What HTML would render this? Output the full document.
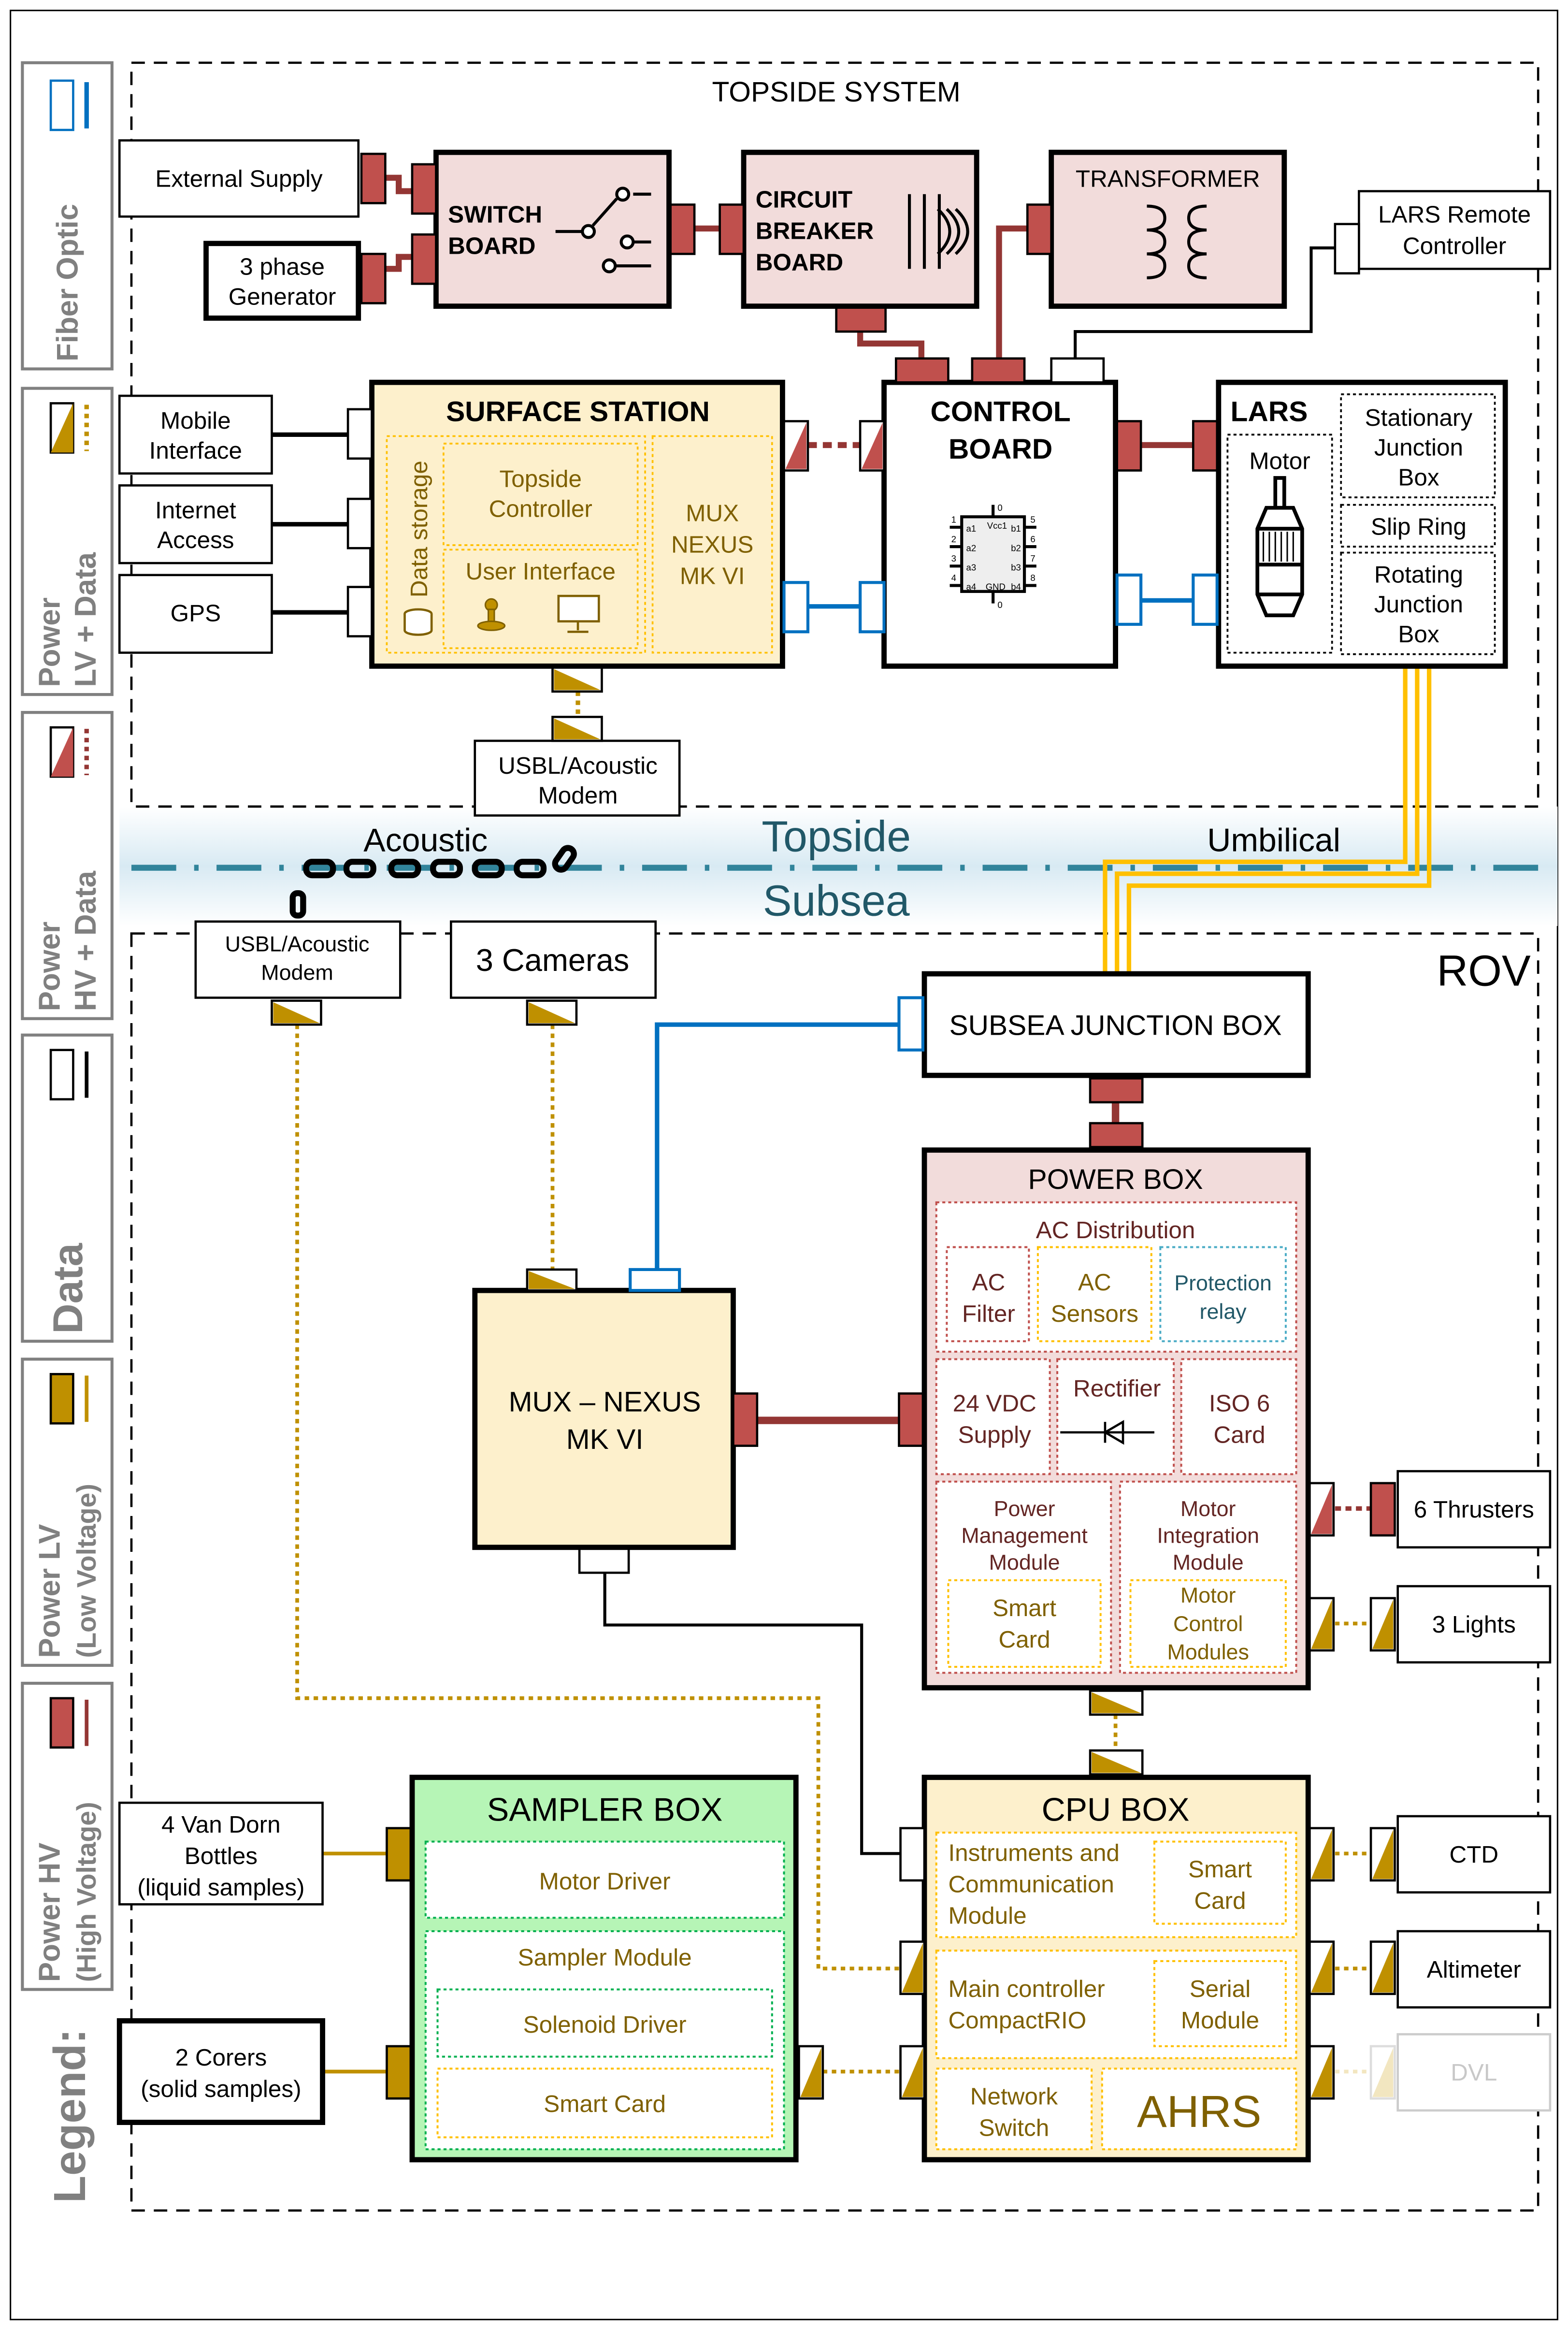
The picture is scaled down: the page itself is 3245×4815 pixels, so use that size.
<!DOCTYPE html>
<html><head><meta charset="utf-8"><style>html,body{margin:0;padding:0;background:#fff}svg{display:block}text{font-family:"Liberation Sans",sans-serif}</style></head>
<body>
<svg width="3245" height="4815" viewBox="0 0 1050 1558" preserveAspectRatio="none" xmlns="http://www.w3.org/2000/svg">
<defs>
<linearGradient id="sea" x1="0" y1="0" x2="0" y2="1">
<stop offset="0" stop-color="#fff"/><stop offset="0.5" stop-color="#d8eaf3"/><stop offset="1" stop-color="#fff"/>
</linearGradient>
</defs>
<rect x="0" y="0" width="1050" height="1558" fill="#fff"/>
<rect x="7" y="7" width="1036" height="1546" fill="none" stroke="#000" stroke-width="1"/>

<!-- band -->
<rect x="80" y="540" width="963" height="80" fill="url(#sea)"/>
<line x1="88" y1="581" x2="1035" y2="581" stroke="#31849b" stroke-width="4" stroke-dasharray="30,12,3,12"/>
<text x="560" y="570" font-size="29" fill="#215868" text-anchor="middle">Topside</text>
<text x="560" y="613" font-size="29" fill="#215868" text-anchor="middle">Subsea</text>
<text x="285" y="570" font-size="22" text-anchor="middle">Acoustic</text>
<text x="853" y="570" font-size="22" text-anchor="middle">Umbilical</text>

<!-- legend -->
<g stroke="#808080" stroke-width="2" fill="#fff">
<rect x="15" y="42" width="60" height="205"/>
<rect x="15" y="260" width="60" height="205"/>
<rect x="15" y="477" width="60" height="205"/>
<rect x="15" y="693" width="60" height="205"/>
<rect x="15" y="910" width="60" height="205"/>
<rect x="15" y="1127" width="60" height="205"/>
</g>
<g font-weight="bold" fill="#808080">
<text transform="translate(52,242) rotate(-90)" font-size="20">Fiber Optic</text>
<text transform="translate(40,460) rotate(-90)" font-size="20">Power</text>
<text transform="translate(64,460) rotate(-90)" font-size="20">LV + Data</text>
<text transform="translate(40,677) rotate(-90)" font-size="20">Power</text>
<text transform="translate(64,677) rotate(-90)" font-size="20">HV + Data</text>
<text transform="translate(55,893) rotate(-90)" font-size="28">Data</text>
<text transform="translate(40,1110) rotate(-90)" font-size="20">Power LV</text>
<text transform="translate(64,1110) rotate(-90)" font-size="18">(Low Voltage)</text>
<text transform="translate(40,1327) rotate(-90)" font-size="20">Power HV</text>
<text transform="translate(64,1327) rotate(-90)" font-size="18">(High Voltage)</text>
<text transform="translate(57,1475) rotate(-90)" font-size="30">Legend:</text>
</g>
<rect x="34" y="54" width="15" height="33" fill="#fff" stroke="#0070c0" stroke-width="1.5"/>
<line x1="58" y1="55" x2="58" y2="86" stroke="#0070c0" stroke-width="3"/>
<rect x="34" y="270" width="15" height="33" fill="#fff" stroke="#000" stroke-width="1.5"/><polygon points="49,270 49,303 34,303" fill="#bf9000"/>
<line x1="58" y1="271" x2="58" y2="302" stroke="#bf9000" stroke-width="3" stroke-dasharray="3,3"/>
<rect x="34" y="487" width="15" height="33" fill="#fff" stroke="#000" stroke-width="1.5"/><polygon points="49,487 49,520 34,520" fill="#c0504d"/>
<line x1="58" y1="488" x2="58" y2="519" stroke="#943634" stroke-width="3" stroke-dasharray="3,3"/>
<rect x="34" y="703" width="15" height="33" fill="#fff" stroke="#000" stroke-width="1.5"/>
<line x1="58" y1="704" x2="58" y2="735" stroke="#000" stroke-width="2.5"/>
<rect x="34" y="920" width="15" height="33" fill="#bf9000" stroke="#000" stroke-width="1.5"/>
<line x1="58" y1="921" x2="58" y2="952" stroke="#bf9000" stroke-width="2.5"/>
<rect x="34" y="1137" width="15" height="33" fill="#c0504d" stroke="#000" stroke-width="1.5"/>
<line x1="58" y1="1138" x2="58" y2="1169" stroke="#943634" stroke-width="2.5"/>

<!-- dashed containers -->
<rect x="88" y="42" width="942" height="498" fill="none" stroke="#000" stroke-width="1.5" stroke-dasharray="9,6"/>
<text x="560" y="68" font-size="19" text-anchor="middle">TOPSIDE SYSTEM</text>
<rect x="88" y="625" width="942" height="855" fill="none" stroke="#000" stroke-width="1.5" stroke-dasharray="9,6"/>
<text x="1025" y="660" font-size="29" text-anchor="end">ROV</text>

<!-- ===== connecting lines topside ===== -->
<g fill="none" stroke="#943634" stroke-width="4">
<polyline points="257,119 267,119 267,128 276,128"/>
<polyline points="257,180 267,180 267,172 276,172"/>
<line x1="465" y1="153" x2="482" y2="153"/>
<polyline points="576,222 576,230 617,230 617,240"/>
<polyline points="688,153 669,153 669,240"/>
<line x1="764" y1="298" x2="799" y2="298"/>
<line x1="541" y1="298" x2="576" y2="298" stroke-dasharray="6,4"/>
</g>
<polyline points="894,166 878,166 878,222 720,222 720,240" fill="none" stroke="#000" stroke-width="2"/>
<g stroke="#0070c0" stroke-width="3"><line x1="541" y1="406" x2="576" y2="406"/><line x1="764" y1="402" x2="799" y2="402"/></g>
<g stroke="#000" stroke-width="3"><line x1="182" y1="291" x2="233" y2="291"/><line x1="182" y1="351" x2="233" y2="351"/><line x1="182" y1="410" x2="233" y2="410"/></g>
<line x1="387" y1="463" x2="387" y2="480" stroke="#bf9000" stroke-width="3" stroke-dasharray="3,3"/>

<!-- umbilical -->
<g fill="none" stroke="#ffc000" stroke-width="3">
<polyline points="941,446 941,577 740,577 740,652"/>
<polyline points="949,446 949,585 748,585 748,652"/>
<polyline points="957,446 957,593 756,593 756,652"/>
</g>
<!-- acoustic chain -->
<g fill="none" stroke="#000" stroke-width="4">
<rect x="205" y="577" width="18" height="9" rx="4"/><rect x="232" y="577" width="18" height="9" rx="4"/><rect x="262" y="577" width="18" height="9" rx="4"/><rect x="290" y="577" width="18" height="9" rx="4"/><rect x="318" y="577" width="18" height="9" rx="4"/><rect x="346" y="577" width="18" height="9" rx="4"/>
<rect x="374" y="567" width="8" height="16" rx="4" transform="rotate(35 378 575)"/>
<rect x="196" y="598" width="7" height="15" rx="3"/>
</g>

<!-- ===== topside boxes ===== -->
<rect x="80" y="94" width="160" height="51" fill="#fff" stroke="#000" stroke-width="1.5"/>
<text x="160" y="125" font-size="16" text-anchor="middle">External Supply</text>
<rect x="138" y="163" width="102" height="50" fill="#fff" stroke="#000" stroke-width="3.5"/>
<text x="189" y="184" font-size="16" text-anchor="middle">3 phase</text><text x="189" y="204" font-size="16" text-anchor="middle">Generator</text>

<rect x="292" y="102" width="156" height="103" fill="#f2dcdb" stroke="#000" stroke-width="3.5"/>
<text x="300" y="149" font-size="16" font-weight="bold">SWITCH</text><text x="300" y="170" font-size="16" font-weight="bold">BOARD</text>
<g stroke="#000" stroke-width="2" fill="#fff"><line x1="372" y1="155" x2="390" y2="155"/><circle cx="394" cy="155" r="4"/><line x1="397" y1="151" x2="413" y2="133"/><circle cx="417" cy="130" r="4"/><circle cx="420" cy="162" r="4"/><circle cx="408" cy="178" r="4"/><line x1="424" y1="130" x2="436" y2="130"/><line x1="424" y1="162" x2="436" y2="162"/><line x1="412" y1="178" x2="436" y2="178"/></g>

<rect x="498" y="102" width="156" height="103" fill="#f2dcdb" stroke="#000" stroke-width="3.5"/>
<text x="506" y="139" font-size="16" font-weight="bold">CIRCUIT</text><text x="506" y="160" font-size="16" font-weight="bold">BREAKER</text><text x="506" y="181" font-size="16" font-weight="bold">BOARD</text>
<g stroke="#000" stroke-width="2" fill="none"><line x1="609" y1="130" x2="609" y2="180"/><line x1="619" y1="130" x2="619" y2="180"/><line x1="629" y1="130" x2="629" y2="180"/><path d="M628,140 q16,15 0,30 M634,140 q16,15 0,30 M640,140 q16,15 0,30"/></g>

<rect x="704" y="102" width="156" height="103" fill="#f2dcdb" stroke="#000" stroke-width="3.5"/>
<text x="782" y="125" font-size="16" text-anchor="middle">TRANSFORMER</text>
<g stroke="#000" stroke-width="2" fill="none"><path d="M768,138 q12,0 12,8 q0,8 -12,8 q12,0 12,8 q0,8 -12,8 q12,0 12,8 q0,8 -12,8"/><path d="M808,138 q-12,0 -12,8 q0,8 12,8 q-12,0 -12,8 q0,8 12,8 q-12,0 -12,8 q0,8 12,8"/></g>

<rect x="910" y="128" width="128" height="52" fill="#fff" stroke="#000" stroke-width="1.5"/>
<text x="974" y="149" font-size="16" text-anchor="middle">LARS Remote</text><text x="974" y="170" font-size="16" text-anchor="middle">Controller</text>

<rect x="80" y="265" width="102" height="52" fill="#fff" stroke="#000" stroke-width="1.5"/>
<text x="131" y="287" font-size="16" text-anchor="middle">Mobile</text><text x="131" y="307" font-size="16" text-anchor="middle">Interface</text>
<rect x="80" y="325" width="102" height="52" fill="#fff" stroke="#000" stroke-width="1.5"/>
<text x="131" y="347" font-size="16" text-anchor="middle">Internet</text><text x="131" y="367" font-size="16" text-anchor="middle">Access</text>
<rect x="80" y="385" width="102" height="52" fill="#fff" stroke="#000" stroke-width="1.5"/>
<text x="131" y="416" font-size="16" text-anchor="middle">GPS</text>

<!-- surface station -->
<rect x="249" y="256" width="275" height="190" fill="#fdf0cc" stroke="#000" stroke-width="3.5"/>
<text x="387" y="282" font-size="19" font-weight="bold" text-anchor="middle">SURFACE STATION</text>
<g fill="none" stroke="#ffc000" stroke-width="1.2" stroke-dasharray="2,2">
<rect x="259" y="292" width="173" height="145"/>
<rect x="297" y="297" width="130" height="68"/>
<rect x="297" y="368" width="130" height="66"/>
<rect x="437" y="292" width="80" height="145"/>
</g>
<g fill="#7f6000" font-size="16" text-anchor="middle">
<text x="362" y="326">Topside</text><text x="362" y="346">Controller</text>
<text x="362" y="388">User Interface</text>
<text x="477" y="349">MUX</text><text x="477" y="370">NEXUS</text><text x="477" y="391">MK VI</text>
<text transform="translate(286,400) rotate(-90)" text-anchor="start">Data storage</text>
</g>
<g stroke="#7f6000" stroke-width="1.5" fill="#fff"><ellipse cx="280" cy="411" rx="9" ry="3"/><path d="M271,411 v11 a9,3 0 0 0 18,0 v-11"/></g>
<g fill="#bf9000" stroke="#7f6000"><circle cx="329" cy="405" r="4"/><rect x="327" y="408" width="4" height="10"/><ellipse cx="329" cy="419" rx="9" ry="3"/></g>
<g stroke="#7f6000" stroke-width="1.5" fill="#fff"><rect x="374" y="399" width="27" height="17"/><line x1="387" y1="416" x2="387" y2="422"/><line x1="380" y1="423" x2="394" y2="423"/></g>

<!-- control board -->
<rect x="592" y="256" width="155" height="190" fill="#fff" stroke="#000" stroke-width="3.5"/>
<text x="670" y="282" font-size="19" font-weight="bold" text-anchor="middle">CONTROL</text>
<text x="670" y="307" font-size="19" font-weight="bold" text-anchor="middle">BOARD</text>
<rect x="644" y="346" width="42" height="50" fill="#eee" stroke="#000" stroke-width="2"/>
<g stroke="#000" stroke-width="2"><line x1="636" y1="353" x2="644" y2="353"/><line x1="636" y1="366" x2="644" y2="366"/><line x1="636" y1="379" x2="644" y2="379"/><line x1="636" y1="392" x2="644" y2="392"/><line x1="686" y1="353" x2="694" y2="353"/><line x1="686" y1="366" x2="694" y2="366"/><line x1="686" y1="379" x2="694" y2="379"/><line x1="686" y1="392" x2="694" y2="392"/><line x1="665" y1="338" x2="665" y2="346"/><line x1="665" y1="396" x2="665" y2="404"/></g>
<g font-size="6"><text x="647" y="356">a1</text><text x="661" y="354">Vcc1</text><text x="677" y="356">b1</text><text x="647" y="369">a2</text><text x="677" y="369">b2</text><text x="647" y="382">a3</text><text x="677" y="382">b3</text><text x="647" y="395">a4</text><text x="660" y="395">GND</text><text x="677" y="395">b4</text><text x="637" y="350">1</text><text x="637" y="363">2</text><text x="637" y="376">3</text><text x="637" y="389">4</text><text x="690" y="350">5</text><text x="690" y="363">6</text><text x="690" y="376">7</text><text x="690" y="389">8</text><text x="668" y="342">0</text><text x="668" y="407">0</text></g>

<!-- LARS -->
<rect x="816" y="256" width="192" height="190" fill="#fff" stroke="#000" stroke-width="3.5"/>
<text x="824" y="282" font-size="19" font-weight="bold">LARS</text>
<g fill="none" stroke="#000" stroke-width="1.2" stroke-dasharray="2,2">
<rect x="822" y="291" width="70" height="146"/>
<rect x="898" y="264" width="103" height="69"/>
<rect x="898" y="338" width="103" height="28"/>
<rect x="898" y="370" width="103" height="68"/>
</g>
<text x="857" y="314" font-size="16" text-anchor="middle">Motor</text>
<g font-size="16" text-anchor="middle"><text x="950" y="285">Stationary</text><text x="950" y="305">Junction</text><text x="950" y="325">Box</text><text x="950" y="358">Slip Ring</text><text x="950" y="390">Rotating</text><text x="950" y="410">Junction</text><text x="950" y="430">Box</text></g>
<g stroke="#000" stroke-width="2.5" fill="#fff"><rect x="854" y="320" width="6" height="20"/><path d="M848,340 h18 l6,14 v44 l-6,14 h-18 l-6,-14 v-44 z"/><line x1="842" y1="354" x2="872" y2="354"/><line x1="842" y1="378" x2="872" y2="378"/><line x1="842" y1="398" x2="872" y2="398"/></g>
<g stroke="#000" stroke-width="1"><line x1="846" y1="356" x2="846" y2="376"/><line x1="850" y1="356" x2="850" y2="376"/><line x1="854" y1="356" x2="854" y2="376"/><line x1="858" y1="356" x2="858" y2="376"/><line x1="862" y1="356" x2="862" y2="376"/><line x1="866" y1="356" x2="866" y2="376"/></g>

<!-- USBL topside -->
<rect x="318" y="496" width="137" height="50" fill="#fff" stroke="#000" stroke-width="1.5"/>
<text x="387" y="518" font-size="16" text-anchor="middle">USBL/Acoustic</text><text x="387" y="538" font-size="16" text-anchor="middle">Modem</text>

<!-- topside connectors -->
<g stroke="#000" stroke-width="1.5">
<rect x="242" y="103" width="16" height="33" fill="#c0504d"/>
<rect x="242" y="170" width="16" height="33" fill="#c0504d"/>
<rect x="276" y="110" width="16" height="33" fill="#c0504d"/>
<rect x="276" y="157" width="16" height="33" fill="#c0504d"/>
<rect x="449" y="137" width="16" height="33" fill="#c0504d"/>
<rect x="482" y="137" width="16" height="33" fill="#c0504d"/>
<rect x="560" y="206" width="33" height="16" fill="#c0504d"/>
<rect x="688" y="137" width="16" height="33" fill="#c0504d"/>
<rect x="894" y="150" width="16" height="33" fill="#fff"/>
<rect x="600" y="240" width="35" height="16" fill="#c0504d"/>
<rect x="651" y="240" width="35" height="16" fill="#c0504d"/>
<rect x="704" y="240" width="35" height="16" fill="#fff"/>
<rect x="233" y="274" width="16" height="33" fill="#fff"/>
<rect x="233" y="334" width="16" height="33" fill="#fff"/>
<rect x="233" y="393" width="16" height="33" fill="#fff"/>
<rect x="525" y="282" width="16" height="33" fill="#fff"/>
<rect x="576" y="282" width="16" height="33" fill="#fff"/>
<rect x="748" y="282" width="16" height="33" fill="#c0504d"/>
<rect x="799" y="282" width="16" height="33" fill="#c0504d"/>
<rect x="370" y="447" width="33" height="16" fill="#fff"/>
<rect x="370" y="480" width="33" height="16" fill="#fff"/>
</g>
<polygon points="540,283 540,314 526,314" fill="#c0504d"/>
<polygon points="591,283 591,314 577,314" fill="#c0504d"/>
<polygon points="371,448 371,462 402,462" fill="#bf9000"/>
<polygon points="371,481 371,495 402,495" fill="#bf9000"/>
<g stroke="#0070c0" stroke-width="2" fill="#fff">
<rect x="525" y="390" width="16" height="33"/><rect x="576" y="390" width="16" height="33"/>
<rect x="748" y="385" width="16" height="33"/><rect x="799" y="385" width="16" height="33"/>
</g>

<!-- ===== ROV lines ===== -->
<polyline points="602,686 440,686 440,850" fill="none" stroke="#0070c0" stroke-width="3"/>
<g fill="none" stroke="#bf9000" stroke-width="2.5" stroke-dasharray="3,3">
<line x1="370" y1="686" x2="370" y2="850"/>
<polyline points="199,686 199,1137 548,1137 548,1318 603,1318"/>
<line x1="551" y1="1387" x2="603" y2="1387"/>
<line x1="894" y1="1087" x2="918" y2="1087"/>
<line x1="747" y1="1148" x2="747" y2="1172"/>
<line x1="894" y1="1241" x2="918" y2="1241"/>
<line x1="894" y1="1318" x2="918" y2="1318"/>
</g>
<line x1="894" y1="1387" x2="918" y2="1387" stroke="#f2e6c0" stroke-width="2.5" stroke-dasharray="3,3"/>
<line x1="894" y1="1010" x2="918" y2="1010" stroke="#943634" stroke-width="3" stroke-dasharray="4,3"/>
<polyline points="405,1053 405,1088 577,1088 577,1241 603,1241" fill="none" stroke="#000" stroke-width="2"/>
<line x1="507" y1="951" x2="602" y2="951" stroke="#943634" stroke-width="5"/>
<line x1="747" y1="738" x2="747" y2="752" stroke="#943634" stroke-width="5"/>
<line x1="216" y1="1241" x2="259" y2="1241" stroke="#bf9000" stroke-width="2.5"/>
<line x1="216" y1="1387" x2="259" y2="1387" stroke="#bf9000" stroke-width="2.5"/>

<!-- ROV boxes -->
<rect x="131" y="617" width="137" height="51" fill="#fff" stroke="#000" stroke-width="1.5"/>
<text x="199" y="637" font-size="14.5" text-anchor="middle">USBL/Acoustic</text><text x="199" y="656" font-size="14.5" text-anchor="middle">Modem</text>
<rect x="302" y="617" width="137" height="51" fill="#fff" stroke="#000" stroke-width="1.5"/>
<text x="370" y="650" font-size="21" text-anchor="middle">3 Cameras</text>

<rect x="619" y="652" width="257" height="68" fill="#fff" stroke="#000" stroke-width="3.5"/>
<text x="747" y="693" font-size="19" text-anchor="middle">SUBSEA JUNCTION BOX</text>

<!-- MUX -->
<rect x="318" y="864" width="173" height="172" fill="#fdf0cc" stroke="#000" stroke-width="3.5"/>
<text x="405" y="945" font-size="19" text-anchor="middle">MUX – NEXUS</text><text x="405" y="970" font-size="19" text-anchor="middle">MK VI</text>

<!-- POWER BOX -->
<rect x="619" y="770" width="257" height="360" fill="#f2dcdb" stroke="#000" stroke-width="3.5"/>
<text x="747" y="796" font-size="19" text-anchor="middle">POWER BOX</text>
<g fill="#fff" stroke="#c0504d" stroke-width="1.3" stroke-dasharray="2,2">
<rect x="627" y="805" width="241" height="100"/>
<rect x="627" y="910" width="76" height="77"/><rect x="708" y="910" width="78" height="77"/><rect x="791" y="910" width="77" height="77"/>
<rect x="627" y="992" width="117" height="128"/><rect x="750" y="992" width="118" height="128"/>
</g>
<g fill="#fff" stroke-width="1.3" stroke-dasharray="2,2">
<rect x="634" y="835" width="55" height="63" stroke="#c0504d"/>
<rect x="695" y="835" width="76" height="63" stroke="#ffc000"/>
<rect x="777" y="835" width="84" height="63" stroke="#4bacc6"/>
<rect x="635" y="1058" width="102" height="58" stroke="#ffc000"/>
<rect x="757" y="1058" width="104" height="58" stroke="#ffc000"/>
</g>
<g fill="#632523" font-size="16" text-anchor="middle">
<text x="747" y="829">AC Distribution</text>
<text x="662" y="864">AC</text><text x="662" y="885">Filter</text>
<text x="666" y="945">24 VDC</text><text x="666" y="966">Supply</text>
<text x="748" y="935">Rectifier</text>
<text x="830" y="945">ISO 6</text><text x="830" y="966">Card</text>
<text x="686" y="1015" font-size="14.5">Power</text><text x="686" y="1033" font-size="14.5">Management</text><text x="686" y="1051" font-size="14.5">Module</text>
<text x="809" y="1015" font-size="14.5">Motor</text><text x="809" y="1033" font-size="14.5">Integration</text><text x="809" y="1051" font-size="14.5">Module</text>
</g>
<g fill="#7f6000" font-size="16" text-anchor="middle">
<text x="733" y="864">AC</text><text x="733" y="885">Sensors</text>
<text x="686" y="1082">Smart</text><text x="686" y="1103">Card</text>
<text x="809" y="1073" font-size="14.5">Motor</text><text x="809" y="1092" font-size="14.5">Control</text><text x="809" y="1111" font-size="14.5">Modules</text>
</g>
<text x="819" y="864" fill="#215868" font-size="14.5" text-anchor="middle">Protection</text><text x="819" y="883" fill="#215868" font-size="14.5" text-anchor="middle">relay</text>
<g stroke="#000" stroke-width="1.5" fill="none"><line x1="710" y1="959" x2="773" y2="959"/><line x1="740" y1="952" x2="740" y2="966"/><polygon points="740,959 752,952 752,966"/></g>

<!-- CPU BOX -->
<rect x="619" y="1190" width="257" height="256" fill="#fdf0cc" stroke="#000" stroke-width="3.5"/>
<text x="747" y="1219" font-size="22" text-anchor="middle">CPU BOX</text>
<g fill="#fff" stroke="#ffc000" stroke-width="1.3" stroke-dasharray="2,2">
<rect x="627" y="1227" width="241" height="70"/>
<rect x="627" y="1306" width="241" height="72"/>
<rect x="627" y="1385" width="104" height="54"/>
<rect x="738" y="1385" width="130" height="54"/>
<rect x="773" y="1233" width="88" height="55"/>
<rect x="773" y="1313" width="88" height="57"/>
</g>
<g fill="#7f6000" font-size="16">
<text x="635" y="1246">Instruments and</text><text x="635" y="1267">Communication</text><text x="635" y="1288">Module</text>
<text x="635" y="1337">Main controller</text><text x="635" y="1358">CompactRIO</text>
<g text-anchor="middle"><text x="817" y="1257">Smart</text><text x="817" y="1278">Card</text>
<text x="817" y="1337">Serial</text><text x="817" y="1358">Module</text>
<text x="679" y="1409">Network</text><text x="679" y="1430">Switch</text>
<text x="803" y="1424" font-size="30">AHRS</text></g>
</g>

<!-- SAMPLER -->
<rect x="276" y="1190" width="257" height="256" fill="#b6f5b6" stroke="#000" stroke-width="3.5"/>
<text x="405" y="1219" font-size="22" text-anchor="middle">SAMPLER BOX</text>
<g fill="#fff" stroke-dasharray="2,2" stroke-width="1.3">
<rect x="285" y="1233" width="240" height="51" stroke="#00b050"/>
<rect x="285" y="1293" width="240" height="146" stroke="#00b050"/>
<rect x="293" y="1332" width="224" height="45" stroke="#00b050"/>
<rect x="293" y="1385" width="224" height="46" stroke="#ffc000"/>
</g>
<g fill="#7f6000" font-size="16" text-anchor="middle">
<text x="405" y="1265">Motor Driver</text><text x="405" y="1316">Sampler Module</text><text x="405" y="1361">Solenoid Driver</text><text x="405" y="1414">Smart Card</text>
</g>

<rect x="80" y="1207" width="136" height="68" fill="#fff" stroke="#000" stroke-width="1.5"/>
<text x="148" y="1227" font-size="16" text-anchor="middle">4 Van Dorn</text><text x="148" y="1248" font-size="16" text-anchor="middle">Bottles</text><text x="148" y="1269" font-size="16" text-anchor="middle">(liquid samples)</text>
<rect x="80" y="1353" width="136" height="68" fill="#fff" stroke="#000" stroke-width="3.5"/>
<text x="148" y="1383" font-size="16" text-anchor="middle">2 Corers</text><text x="148" y="1404" font-size="16" text-anchor="middle">(solid samples)</text>

<rect x="936" y="985" width="102" height="51" fill="#fff" stroke="#000" stroke-width="1.5"/><text x="987" y="1016" font-size="16" text-anchor="middle">6 Thrusters</text>
<rect x="936" y="1062" width="102" height="51" fill="#fff" stroke="#000" stroke-width="1.5"/><text x="987" y="1093" font-size="16" text-anchor="middle">3 Lights</text>
<rect x="936" y="1216" width="102" height="51" fill="#fff" stroke="#000" stroke-width="1.5"/><text x="987" y="1247" font-size="16" text-anchor="middle">CTD</text>
<rect x="936" y="1293" width="102" height="51" fill="#fff" stroke="#000" stroke-width="1.5"/><text x="987" y="1324" font-size="16" text-anchor="middle">Altimeter</text>
<rect x="936" y="1362" width="102" height="51" fill="#fff" stroke="#ccc" stroke-width="1.5"/><text x="987" y="1393" font-size="16" fill="#c8c8c8" text-anchor="middle">DVL</text>

<!-- ROV connectors -->
<g stroke="#000" stroke-width="1.5">
<rect x="182" y="670" width="33" height="16" fill="#fff"/>
<rect x="353" y="670" width="33" height="16" fill="#fff"/>
<rect x="353" y="850" width="33" height="14" fill="#fff"/>
<rect x="388" y="1037" width="33" height="16" fill="#fff"/>
<rect x="491" y="933" width="16" height="35" fill="#c0504d"/>
<rect x="602" y="933" width="16" height="35" fill="#c0504d"/>
<rect x="730" y="722" width="35" height="16" fill="#c0504d"/>
<rect x="730" y="752" width="35" height="16" fill="#c0504d"/>
<rect x="730" y="1132" width="35" height="16" fill="#fff"/>
<rect x="730" y="1172" width="35" height="16" fill="#fff"/>
<rect x="877" y="993" width="16" height="35" fill="#fff"/>
<rect x="918" y="993" width="16" height="35" fill="#c0504d"/>
<rect x="877" y="1070" width="16" height="35" fill="#fff"/>
<rect x="918" y="1070" width="16" height="35" fill="#fff"/>
<rect x="877" y="1224" width="16" height="35" fill="#fff"/>
<rect x="918" y="1224" width="16" height="35" fill="#fff"/>
<rect x="877" y="1300" width="16" height="35" fill="#fff"/>
<rect x="918" y="1300" width="16" height="35" fill="#fff"/>
<rect x="877" y="1370" width="16" height="35" fill="#fff"/>
<rect x="603" y="1224" width="16" height="35" fill="#fff"/>
<rect x="603" y="1300" width="16" height="35" fill="#fff"/>
<rect x="603" y="1370" width="16" height="35" fill="#fff"/>
<rect x="259" y="1224" width="16" height="35" fill="#bf9000"/>
<rect x="259" y="1370" width="16" height="35" fill="#bf9000"/>
<rect x="535" y="1370" width="16" height="35" fill="#fff"/>
</g>
<rect x="918" y="1370" width="16" height="35" fill="#fff" stroke="#ddd" stroke-width="1.5"/>
<rect x="422" y="850" width="33" height="14" fill="#fff" stroke="#0070c0" stroke-width="2"/>
<rect x="602" y="668" width="16" height="35" fill="#fff" stroke="#0070c0" stroke-width="2"/>
<g fill="#bf9000">
<polygon points="183,671 183,685 214,685"/>
<polygon points="354,671 354,685 385,685"/>
<polygon points="354,851 354,863 385,863"/>
<polygon points="731,1133 731,1147 764,1147"/>
<polygon points="731,1173 731,1187 764,1187"/>
<polygon points="892,1071 892,1104 878,1104"/>
<polygon points="933,1071 933,1104 919,1104"/>
<polygon points="892,1225 892,1258 878,1258"/>
<polygon points="933,1225 933,1258 919,1258"/>
<polygon points="892,1301 892,1334 878,1334"/>
<polygon points="933,1301 933,1334 919,1334"/>
<polygon points="892,1371 892,1404 878,1404"/>
<polygon points="618,1301 618,1334 604,1334"/>
<polygon points="618,1371 618,1404 604,1404"/>
<polygon points="550,1371 550,1404 536,1404"/>
</g>
<polygon points="933,1371 933,1404 919,1404" fill="#f2e6c0"/>
<polygon points="892,994 892,1027 878,1027" fill="#c0504d"/>
</svg>
</body></html>
